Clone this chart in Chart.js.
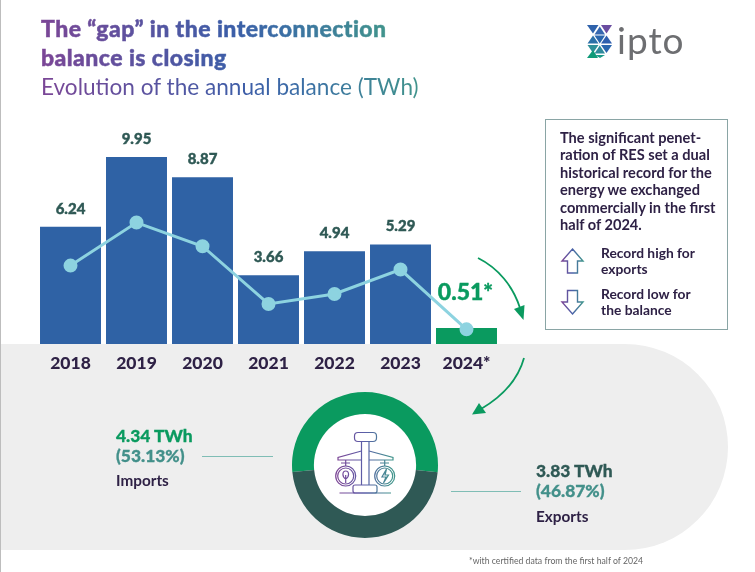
<!DOCTYPE html>
<html>
<head>
<meta charset="utf-8">
<title>The gap in the interconnection balance is closing</title>
<script src="https://cdn.jsdelivr.net/npm/chart.js@4"></script>
<style>
  html, body { margin: 0; padding: 0; background: #fff; }
  body { width: 755px; height: 572px; position: relative; overflow: hidden; font-family: Lato, sans-serif; color: #2e2145; }
  #edge { position: absolute; left: 0; top: 0; width: 1px; height: 572px; background: #bdbdbd; }
  #pill { position: absolute; left: 1px; top: 344px; width: 727px; height: 206px; background: #eeeeee; border-radius: 0 103px 103px 0; }
  canvas { position: absolute; }
  #hole { position: absolute; left: 314px; top: 414px; width: 102px; height: 102px; border-radius: 50%; background: #fff; }
  .t { position: absolute; white-space: nowrap; }
  .grad { background: linear-gradient(90deg, #7b4696 0%, #3c5ea8 55%, #3b6fa5 70%, #41948c 100%); -webkit-background-clip: text; background-clip: text; color: transparent; }
  #title { left: 41px; top: 14px; font-family: "Lato Black", Lato, sans-serif; font-size: 23px; letter-spacing: 0.45px; line-height: 29px; font-weight: 900; -webkit-text-stroke: 0.5px transparent; }
  #subtitle { left: 41px; top: 73px; font-size: 22.6px; line-height: 28px; font-weight: 400; }
  #logoText { left: 617px; top: 18px; font-size: 37px; letter-spacing: 1px; line-height: 44px; color: #6d6e71; font-weight: 400; }
  #box { position: absolute; left: 545px; top: 119px; width: 181px; height: 209px; border: 1px solid #8aa5a5; }
  #boxText { left: 560px; top: 129px; font-size: 14.6px; line-height: 17.4px; font-weight: 700; }
  .rec { font-size: 13.8px; line-height: 16px; font-weight: 700; left: 601px; }
  .big { font-size: 17.4px; line-height: 20px; font-weight: 900; -webkit-text-stroke: 0.3px currentColor; }
  .pct { font-size: 17.4px; line-height: 20px; font-weight: 900; color: #43908a; -webkit-text-stroke: 0.3px currentColor; }
  .nm { font-size: 15.3px; line-height: 18px; font-weight: 700; }
  .lead { position: absolute; height: 1px; background: #7fbdb5; }
  #note { left: 469px; top: 556px; font-size: 8.7px; line-height: 10px; color: #666; }
  svg { position: absolute; left: 0; top: 0; }
</style>
</head>
<body>
<div id="edge"></div>
<div id="pill"></div>
<div id="hole"></div>

<canvas id="barras" width="755" height="380" style="left:0;top:0"></canvas>
<canvas id="dona" width="146" height="146" style="left:292px;top:392px"></canvas>

<svg width="755" height="572" viewBox="0 0 755 572">
  <defs>
    <linearGradient id="icono" x1="0" y1="0" x2="1" y2="0">
      <stop offset="0" stop-color="#7b4696"/><stop offset="0.5" stop-color="#4a62a8"/><stop offset="1" stop-color="#41948c"/>
    </linearGradient>
    <linearGradient id="icono2" gradientUnits="userSpaceOnUse" x1="338" y1="0" x2="392" y2="0">
      <stop offset="0" stop-color="#7b4696"/><stop offset="0.5" stop-color="#5a5fa8"/><stop offset="1" stop-color="#41948c"/>
    </linearGradient>
  </defs>

  <!-- logo -->
  <g>
    <polygon points="587,25 598.5,25 593,33.5" fill="#2f62ab"/>
    <polygon points="601,25 612,25 606.5,33.5" fill="#6a4da0"/>
    <polygon points="599.8,26.5 605,34.5 594.5,34.5" fill="#3567b0"/>
    <polygon points="593,35.5 598.5,43.5 587.5,43.5" fill="#2c70a8"/>
    <polygon points="606.5,35.5 612,43.5 601,43.5" fill="#2f5fae"/>
    <polygon points="594.5,35.5 605,35.5 599.8,43.5" fill="#2a66ad"/>
    <polygon points="587.5,45 598.5,45 593,53" fill="#2f8f98"/>
    <polygon points="601,45 612,45 606.5,53" fill="#2b66ad"/>
    <polygon points="599.8,45.5 605,53.5 594.5,53.5" fill="#2f8a9c"/>
    <polygon points="593,50 598,58 587,58" fill="#0f9a78"/>
    <polygon points="595,55 605,55 600,58" fill="#1a9a88"/>
  </g>

  <!-- curved arrows -->
  <path d="M478 258 C498 268 513 286 520 308" fill="none" stroke="#0a9a5f" stroke-width="1.8"/>
  <polygon points="514,309 524.5,305 523.5,320" fill="#0a9a5f"/>
  <path d="M524 358 C518 380 503 396 481 409" fill="none" stroke="#0a9a5f" stroke-width="1.8"/>
  <polygon points="479,403 486,413 472,414.5" fill="#0a9a5f"/>

  <!-- record arrows -->
  <polygon points="572.5,249 583,261 577.5,261 577.5,273 567.5,273 567.5,261 562,261" fill="none" stroke="url(#icono)" stroke-width="1.4"/>
  <polygon points="572.5,314 583,302 577.5,302 577.5,290.5 567.5,290.5 567.5,302 562,302" fill="none" stroke="url(#icono)" stroke-width="1.4"/>

  <!-- balance icon -->
  <g fill="none" stroke="url(#icono2)" stroke-width="1.2">
    <rect x="354.5" y="432.5" width="22" height="9" rx="3.5"/>
    <path d="M361.5 441.5 V485 M369 441.5 V485"/>
    <path d="M361.5 451 L338 457.5 V460 H361.5 M369 451 L393 457.5 V460 H369"/>
    <rect x="353" y="485" width="24" height="8" rx="2"/>
    <path d="M339.5 493 H391"/>
    <circle cx="345.7" cy="476" r="10"/><circle cx="345.7" cy="476" r="8"/>
    <circle cx="384.7" cy="476" r="10"/><circle cx="384.7" cy="476" r="8"/>
    <path d="M345.7 460 V466 M384.7 460 V466 M341 463 H350 M380 463 H389"/>
    <path d="M345.7 471 C349.5 471 349.5 477 345.7 479 C342 477 342 471 345.7 471 M345.7 475 V483"/>
    <path d="M386.5 469 L382 477 H386 L383.5 483 L388.5 475 H385 Z"/>
  </g>
</svg>

<div class="t grad" id="title">The “gap” in the interconnection<br>balance is closing</div>
<div class="t grad" id="subtitle">Evolution of the annual balance (TWh)</div>
<div class="t" id="logoText">ipto</div>

<div id="box"></div>
<div class="t" id="boxText">The significant penet-<br>ration of RES set a dual<br>historical record for the<br>energy we exchanged<br>commercially in the first<br>half of 2024.</div>
<div class="t rec" style="top:245px">Record high for<br>exports</div>
<div class="t rec" style="top:286px">Record low for<br>the balance</div>

<div class="t big" style="left:116px;top:426px;color:#0a9a5f">4.34 TWh</div>
<div class="t pct" style="left:116px;top:446px">(53.13%)</div>
<div class="t nm" style="left:116px;top:471px">Imports</div>
<div class="lead" style="left:202px;top:456px;width:71px"></div>

<div class="t big" style="left:536px;top:461px;color:#2f5955">3.83 TWh</div>
<div class="t pct" style="left:536px;top:481px">(46.87%)</div>
<div class="t nm" style="left:536px;top:507px">Exports</div>
<div class="lead" style="left:451px;top:491px;width:70px"></div>

<div class="t" id="note">*with certified data from the first half of 2024</div>

<script>
const anios = ['2018', '2019', '2020', '2021', '2022', '2023', '2024*'];
const balance = [6.24, 9.95, 8.87, 3.66, 4.94, 5.29, 0.51];
const etiquetas = ['6.24', '9.95', '8.87', '3.66', '4.94', '5.29', '0.51*'];
const linea = [4.17, 6.46, 5.2, 2.13, 2.66, 3.96, 0.78]; // no printed values
const coloresBarras = ['#2f62a5', '#2f62a5', '#2f62a5', '#2f62a5', '#2f62a5', '#2f62a5', '#0a9a5f'];

const partes = ['Imports', 'Exports'];
const twh = [4.34, 3.83];
const coloresDona = ['#0a9a5f', '#2f5955'];

Chart.defaults.font.family = 'Lato, sans-serif';

// numbers above the bars
const rotulos = {
    id: 'rotulos',
    afterDatasetsDraw(chart) {
        const ctx = chart.ctx;
        const barras = chart.getDatasetMeta(1).data;
        ctx.save();
        ctx.textAlign = 'center';
        ctx.textBaseline = 'middle';
        ctx.lineWidth = 0.4;
        barras.forEach((b, i) => {
            const ultimo = i === barras.length - 1;
            ctx.font = ultimo ? '900 23px Lato' : '900 15px Lato';
            ctx.fillStyle = ultimo ? '#0a9a5f' : '#2f5955';
            ctx.strokeStyle = ctx.fillStyle;
            const x = ultimo ? b.x - 1 : b.x;
            const y = ultimo ? 293 : b.y - 18;
            ctx.fillText(etiquetas[i], x, y);
            ctx.strokeText(etiquetas[i], x, y);
        });
        ctx.restore();
    }
};

new Chart(document.getElementById('barras'), {
    data: {
        labels: anios,
        datasets: [
            {
                type: 'line',
                data: linea,
                borderColor: '#8dd3e0',
                backgroundColor: '#8dd3e0',
                borderWidth: 3,
                pointRadius: 5.5,
                tension: 0,
                order: 0
            },
            {
                type: 'bar',
                data: balance,
                backgroundColor: coloresBarras,
                categoryPercentage: 1,
                barPercentage: 0.924,
                minBarLength: 16, // the 2024 bar is drawn taller than its value in the original
                order: 1
            }
        ]
    },
    options: {
        responsive: false,
        animation: false,
        layout: { padding: { left: 37.5, right: 255.5, top: 156, bottom: 0 } },
        plugins: { legend: { display: false }, tooltip: { enabled: false } },
        scales: {
            x: {
                grid: { display: false },
                border: { display: false },
                ticks: { color: '#2e2145', font: { size: 17.5, weight: '900' }, padding: 1, maxRotation: 0, autoSkip: false },
                afterFit: (s) => { s.height = 36; }
            },
            y: { display: false, min: 0, max: 10 }
        }
    },
    plugins: [rotulos]
});

new Chart(document.getElementById('dona'), {
    type: 'doughnut',
    data: {
        labels: partes,
        datasets: [{ data: twh, backgroundColor: coloresDona, borderWidth: 0 }]
    },
    options: {
        responsive: false,
        animation: false,
        rotation: -95.6,
        cutout: '70%',
        plugins: { legend: { display: false }, tooltip: { enabled: false } }
    }
});
</script>
</body>
</html>
